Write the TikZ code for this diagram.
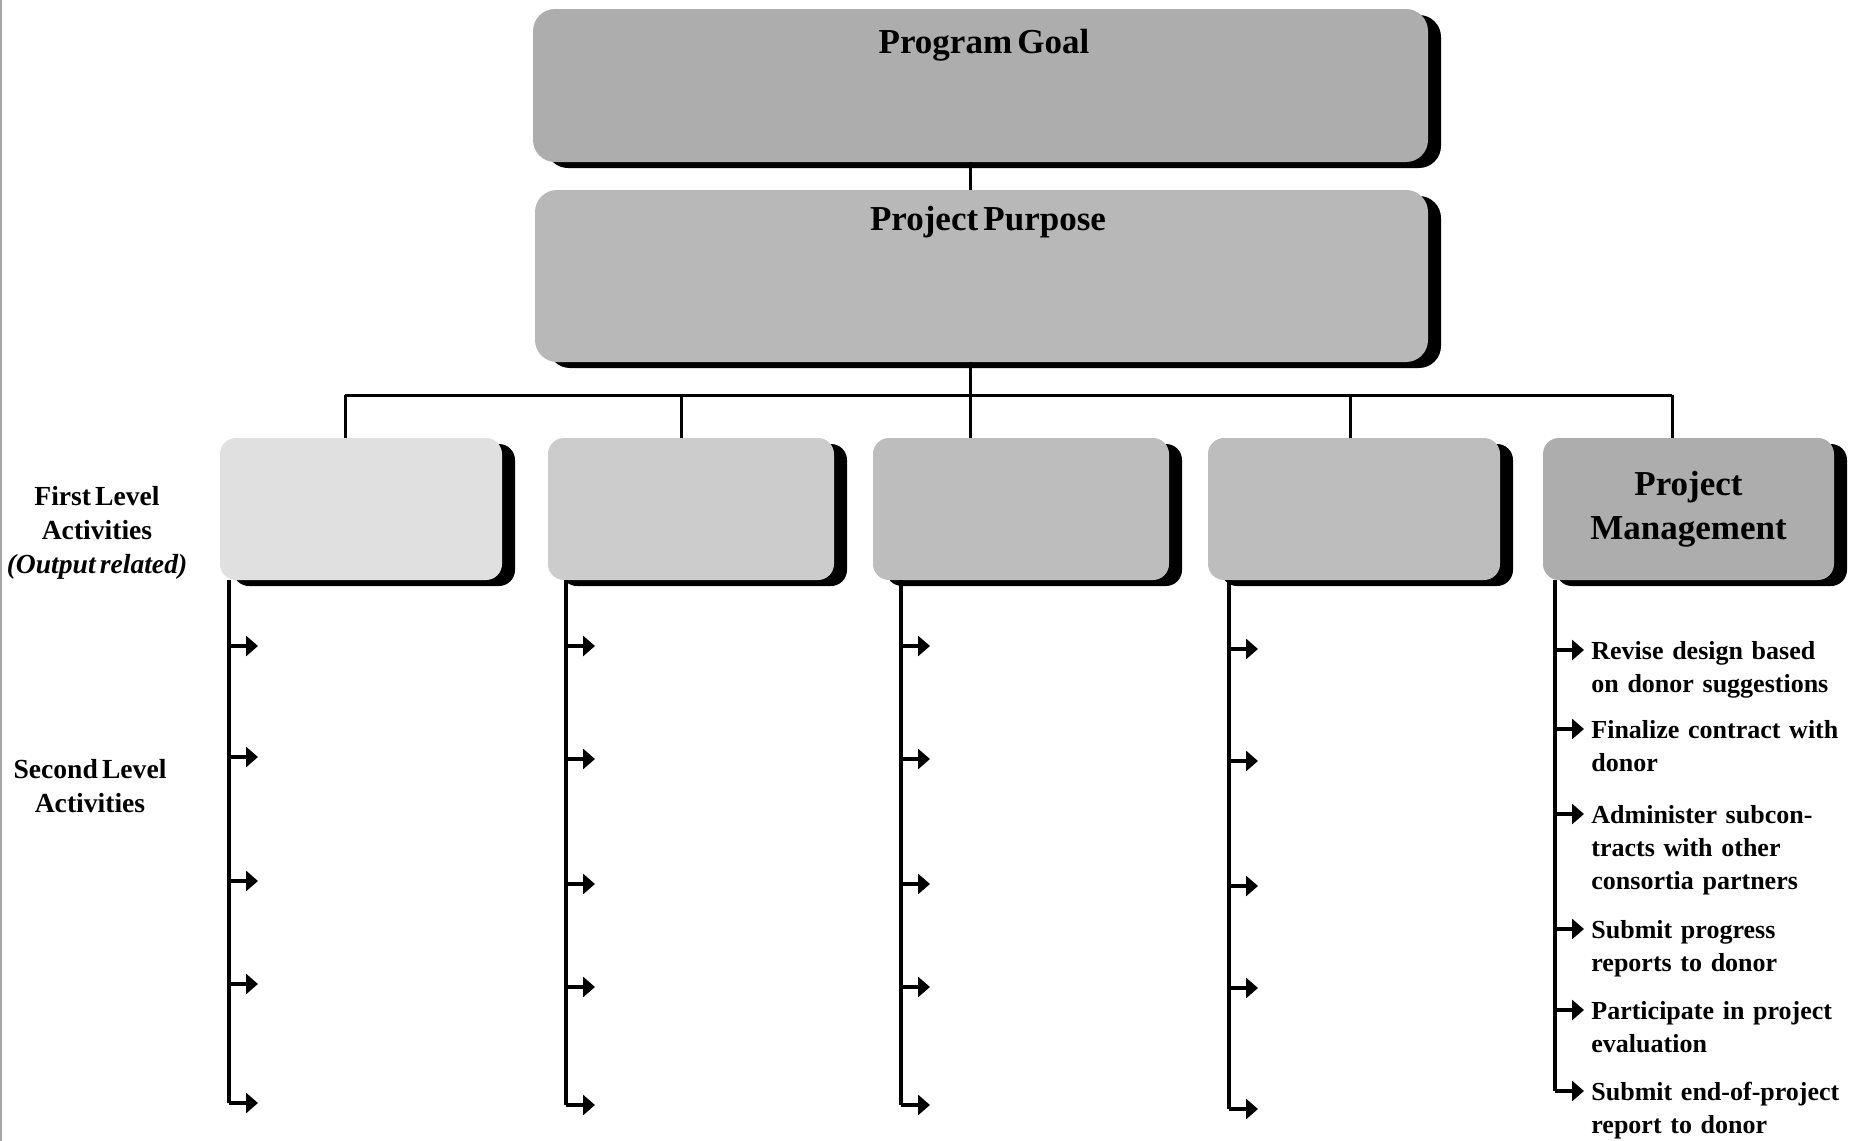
\documentclass[tikz,border=0pt]{standalone}
\usepackage{fontspec}
\setmainfont[WordSpace=0.6]{Liberation Serif}
\usetikzlibrary{arrows.meta,shadows}

\begin{document}
\begin{tikzpicture}[x=0.5pt,y=-0.5pt,
  font=\bfseries,
  panel/.style={inner sep=0pt,
    drop shadow={shadow xshift=6.5pt, shadow yshift=-3pt, fill=black, opacity=1}},
  bigbox/.style={panel, rounded corners=11pt},
  smallbox/.style={panel, rounded corners=8pt, minimum height=71pt},
  link/.style={line width=1.5pt},
  stem/.style={line width=1.6pt},
  act/.style={line width=2.4pt, -{Triangle[length=6pt,width=10pt]}},
  title/.style={font=\bfseries\fontsize{17.5}{22}\selectfont},
  item/.style={font=\bfseries\fontsize{13}{16.5}\selectfont, anchor=base west,
    text width=150pt, align=left, inner sep=0pt},
  side/.style={font=\bfseries\fontsize{13.8}{17}\selectfont, align=center, inner sep=0pt}
]
\useasboundingbox (0,0) rectangle (1860,1141);

% page edge rule
\draw[black!35, line width=1pt] (1,0) -- (1,1141);

% goal and purpose
\node[bigbox, fill=black!32, minimum width=447.5pt, minimum height=76.5pt] (goal) at (980.5,85.5) {};
\node[bigbox, fill=black!28, minimum width=446.5pt, minimum height=86pt] (purpose) at (981.5,276) {};
\node[title] (goalt) at (984,45) {Program Goal};
\node[title] (purposet) at (988,222) {Project Purpose};

% first level activities
\node[smallbox, fill=black!12, minimum width=141pt] (f1) at (361,509) {};
\node[smallbox, fill=black!20, minimum width=143pt] (f2) at (691,509) {};
\node[smallbox, fill=black!26, minimum width=148pt] (f3) at (1021,509) {};
\node[smallbox, fill=black!26, minimum width=146pt] (f4) at (1354,509) {};
\node[smallbox, fill=black!32, minimum width=145.5pt, title, align=center] (f5) at (1688.5,509) {Project\\Management};

% tree connectors
\coordinate (stemx) at (970,0);
\coordinate (hub) at (970,395);
\draw[link] (goal.south -| stemx) -- (purpose.north -| stemx);
\draw[link] (purpose.south -| stemx) -- (hub);
\coordinate (d1) at (345,395);
\coordinate (d2) at (681,395);
\coordinate (d3) at (970,395);
\coordinate (d4) at (1350,395);
\coordinate (d5) at (1672,395);
\draw[link] (d1) -- (d5);
\foreach \i in {1,...,5} \draw[link] (d\i) -- (d\i |- f\i.north);

% second level stems
\foreach \k/\x/\ylast in {1/229/1103, 2/566/1105, 3/901/1105, 4/1229/1109, 5/1555/1091} {
  \coordinate (e\k) at (\x,\ylast);
  \draw[stem] (f\k.south -| e\k) -- (e\k);
}

% second level arrows
\foreach \y [count=\j] in {646,757,881,984,1103} {
  \coordinate (c1-\j) at (229,\y); \draw[act] (c1-\j) -- ++(29,0);}
\foreach \y [count=\j] in {646,759,884,987,1105} {
  \coordinate (c2-\j) at (566,\y); \draw[act] (c2-\j) -- ++(29,0);}
\foreach \y [count=\j] in {646,759,884,987,1105} {
  \coordinate (c3-\j) at (901,\y); \draw[act] (c3-\j) -- ++(29,0);}
\foreach \y [count=\j] in {649,761,886,988,1109} {
  \coordinate (c4-\j) at (1229,\y); \draw[act] (c4-\j) -- ++(29,0);}
\foreach \y [count=\j] in {650,729,814,929,1010,1091} {
  \coordinate (c5-\j) at (1555,\y); \draw[act] (c5-\j) -- ++(29,0);}

% project management tasks
\node[item] (t1) at (1591,659) {Revise design based\\on donor suggestions};
\node[item] (t2) at (1591,738) {Finalize contract with\\donor};
\node[item] (t3) at (1591,823) {Administer subcon-\\tracts with other\\consortia partners};
\node[item] (t4) at (1591,938) {Submit progress\\reports to donor};
\node[item] (t5) at (1591,1019) {Participate in project\\evaluation};
\node[item] (t6) at (1591,1100) {Submit end-of-project\\report to donor};

% level captions
\node[side] (lvl1) at (97,533) {First Level\\Activities\\\textit{(Output related)}};
\node[side] (lvl2) at (90,786) {Second Level\\Activities};

\end{tikzpicture}
\end{document}
